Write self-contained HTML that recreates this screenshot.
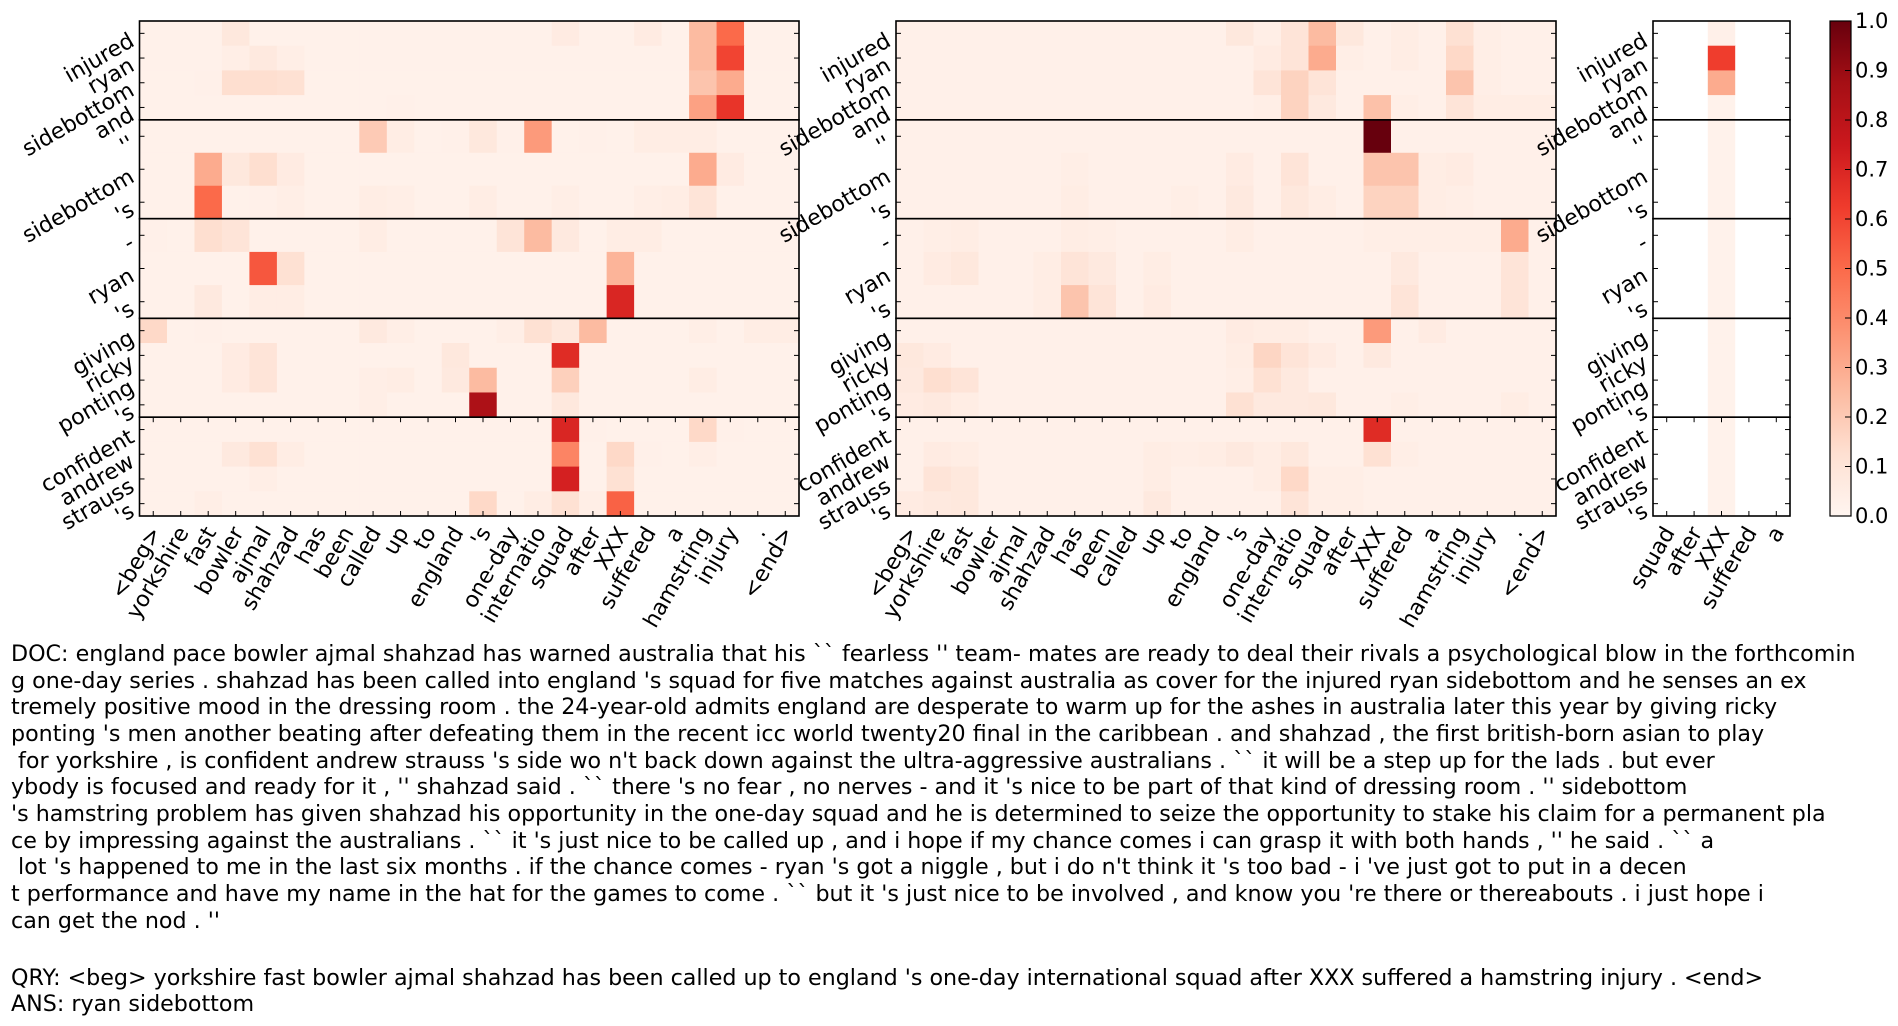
<!DOCTYPE html>
<html><head><meta charset="utf-8">
<style>
html,body{margin:0;padding:0;background:#fff;}
svg{display:block;}
text{font-family:"DejaVu Sans","Liberation Sans",sans-serif;fill:#000;}
</style></head>
<body>
<svg id="s" width="1898" height="1026" xmlns="http://www.w3.org/2000/svg">
<defs>
<linearGradient id="cb" x1="0" y1="1" x2="0" y2="0">
<stop offset="0" stop-color="#fff5f0"/>
<stop offset="0.125" stop-color="#fee0d2"/>
<stop offset="0.25" stop-color="#fcbba1"/>
<stop offset="0.375" stop-color="#fc9272"/>
<stop offset="0.5" stop-color="#fb6a4a"/>
<stop offset="0.625" stop-color="#ef3b2c"/>
<stop offset="0.75" stop-color="#cb181d"/>
<stop offset="0.875" stop-color="#a50f15"/>
<stop offset="1" stop-color="#67000d"/>
</linearGradient>
</defs>
<g id="g"></g>
<g id="txt" font-size="22.2" style="white-space:pre">
<text x="11" y="661" xml:space="preserve">DOC: england pace bowler ajmal shahzad has warned australia that his `` fearless '' team- mates are ready to deal their rivals a psychological blow in the forthcomin</text>
<text x="11" y="688" xml:space="preserve">g one-day series . shahzad has been called into england 's squad for five matches against australia as cover for the injured ryan sidebottom and he senses an ex</text>
<text x="11" y="714" xml:space="preserve">tremely positive mood in the dressing room . the 24-year-old admits england are desperate to warm up for the ashes in australia later this year by giving ricky</text>
<text x="11" y="741" xml:space="preserve">ponting 's men another beating after defeating them in the recent icc world twenty20 final in the caribbean . and shahzad , the first british-born asian to play</text>
<text x="11" y="768" xml:space="preserve"> for yorkshire , is confident andrew strauss 's side wo n't back down against the ultra-aggressive australians . `` it will be a step up for the lads . but ever</text>
<text x="11" y="794" xml:space="preserve">ybody is focused and ready for it , '' shahzad said . `` there 's no fear , no nerves - and it 's nice to be part of that kind of dressing room . '' sidebottom</text>
<text x="11" y="821" xml:space="preserve">'s hamstring problem has given shahzad his opportunity in the one-day squad and he is determined to seize the opportunity to stake his claim for a permanent pla</text>
<text x="11" y="848" xml:space="preserve">ce by impressing against the australians . `` it 's just nice to be called up , and i hope if my chance comes i can grasp it with both hands , '' he said . `` a</text>
<text x="11" y="874" xml:space="preserve"> lot 's happened to me in the last six months . if the chance comes - ryan 's got a niggle , but i do n't think it 's too bad - i 've just got to put in a decen</text>
<text x="11" y="901" xml:space="preserve">t performance and have my name in the hat for the games to come . `` but it 's just nice to be involved , and know you 're there or thereabouts . i just hope i</text>
<text x="11" y="928" xml:space="preserve">can get the nod . ''</text>
<text x="11" y="985" xml:space="preserve">QRY: &lt;beg&gt; yorkshire fast bowler ajmal shahzad has been called up to england 's one-day international squad after XXX suffered a hamstring injury . &lt;end&gt;</text>
<text x="11" y="1011" xml:space="preserve">ANS: ryan sidebottom</text>
</g>
</svg>
<script>
(function(){
var NS="http://www.w3.org/2000/svg";
var G=document.getElementById('g');
function el(t,a,p){var e=document.createElementNS(NS,t);for(var k in a)e.setAttribute(k,a[k]);(p||G).appendChild(e);return e;}
var stops=[[0,[255,245,240]],[.125,[254,224,210]],[.25,[252,187,161]],[.375,[252,146,114]],[.5,[251,106,74]],[.625,[239,59,44]],[.75,[203,24,29]],[.875,[165,15,21]],[1,[103,0,13]]];
function col(v){v=Math.max(0,Math.min(1,v));for(var i=1;i<stops.length;i++){if(v<=stops[i][0]){var a=stops[i-1],b=stops[i],t=(v-a[0])/(b[0]-a[0]);var c=[0,1,2].map(function(j){return Math.round(a[1][j]+(b[1][j]-a[1][j])*t)});return 'rgb('+c.join(',')+')';}}return 'rgb(103,0,13)';}
var bot=516,bnd=[21,119.8,218.7,318.3,417.2,516];
var grpRows=[[0,1,2,3],[4,5,6],[7,8,9],[10,11,12,13],[14,15,16,17]];
var rowY=[],rowH=[];
grpRows.forEach(function(rs,g){var h=(bnd[g+1]-bnd[g])/rs.length;rs.forEach(function(r,i){rowY[r]=bnd[g]+i*h;rowH[r]=h;});});
var xl=["<beg>","yorkshire","fast","bowler","ajmal","shahzad","has","been","called","up","to","england","'s","one-day","internatio","squad","after","XXX","suffered","a","hamstring","injury",".","<end>"];
var yl={0:"injured",1:"ryan",2:"sidebottom",3:"and",4:"''",5:"sidebottom",6:"'s",7:"-",8:"ryan",9:"'s",10:"giving",11:"ricky",12:"ponting",13:"'s",14:"confident",15:"andrew",16:"strauss",17:"'s"};
var d1={0:{3:.08,15:.06,18:.06,20:.25,21:.5},1:{3:.04,4:.07,5:.04,20:.25,21:.6},2:{2:.03,3:.13,4:.13,5:.12,20:.22,21:.3},3:{9:.03,20:.33,21:.65},
4:{8:.2,9:.05,11:.03,12:.08,13:.03,14:.35,16:.03,18:.05,19:.05,20:.05},5:{2:.3,3:.08,4:.13,5:.06,20:.3,21:.06},6:{2:.5,4:.03,5:.04,8:.05,9:.04,12:.05,15:.04,18:.04,19:.05,20:.1},
7:{0:.03,2:.13,3:.1,8:.05,13:.1,14:.25,15:.07,17:.05,18:.05},8:{4:.55,5:.12,17:.27},9:{2:.07,4:.05,5:.05,17:.7},
10:{0:.15,2:.03,8:.07,9:.04,13:.04,14:.12,15:.08,16:.25,20:.04,22:.05,23:.05},11:{3:.06,4:.1,11:.08,15:.68},12:{3:.06,4:.1,8:.04,9:.05,11:.07,12:.25,15:.18,20:.05},13:{12:.85,15:.08,8:.04},
14:{15:.7,16:.03,20:.15,21:.03},15:{3:.07,4:.12,5:.05,15:.42,17:.15,18:.03,20:.04},16:{4:.04,15:.72,17:.12},17:{2:.04,12:.15,14:.05,15:.12,16:.04,17:.52}};
var d2={0:{12:.08,13:.04,14:.1,15:.25,16:.08,17:.03,18:.05,20:.12,21:.04},1:{13:.06,14:.1,15:.3,16:.04,17:.03,18:.05,20:.15,21:.04},2:{13:.1,14:.17,15:.1,20:.22,21:.04},3:{13:.04,14:.17,15:.07,17:.23,18:.04,19:.03,20:.1,21:.05,22:.05,23:.05},
4:{17:1.0},5:{6:.04,12:.06,14:.1,15:.03,17:.22,18:.22,19:.05,20:.06},6:{6:.05,10:.04,12:.07,14:.08,15:.05,17:.17,18:.17,19:.05,20:.04},
7:{1:.04,2:.05,6:.05,7:.04,12:.05,17:.04,18:.04,19:.04,20:.04,21:.04,22:.3},8:{1:.06,2:.08,5:.05,6:.1,7:.07,9:.05,18:.07,22:.1},9:{5:.05,6:.22,7:.1,9:.06,18:.1,22:.1},
10:{12:.06,13:.05,14:.05,17:.35,19:.06},11:{0:.08,1:.06,12:.05,13:.16,14:.1,15:.06,17:.07},12:{0:.07,1:.13,2:.1,12:.04,13:.12,14:.07},13:{0:.06,1:.07,2:.05,12:.12,13:.07,14:.07,15:.08,18:.04,22:.05},
14:{17:.68},15:{1:.06,2:.05,9:.05,10:.04,11:.05,12:.07,13:.05,14:.08,17:.12,18:.04},16:{1:.1,2:.08,9:.05,13:.05,14:.15,15:.04,16:.04},17:{0:.06,1:.07,2:.08,9:.07,14:.1,15:.04,16:.04}};
var d3={0:{2:.03},1:{2:.62},2:{2:.3}};
function panel(x0,x1,labels,data,def,white){
  var n=labels.length,w=(x1-x0)/n;
  for(var r=0;r<18;r++){for(var c=0;c<n;c++){var v=(data[r]&&data[r][c]!=null)?data[r][c]:def;
    var f=(white&&c!==2)?'#ffffff':col(v);
    el('rect',{x:x0+c*w,y:rowY[r],width:w+0.6,height:rowH[r]+0.6,fill:f});}}
  for(var g=0;g<5;g++){
    el('rect',{x:x0,y:bnd[g],width:x1-x0,height:bnd[g+1]-bnd[g],fill:'none',stroke:'#000','stroke-width':1.6});
    grpRows[g].forEach(function(r){var yy=rowY[r]+rowH[r]/2;
      el('line',{x1:x0,x2:x0+5,y1:yy,y2:yy,stroke:'#000','stroke-width':1});
      el('line',{x1:x1-5,x2:x1,y1:yy,y2:yy,stroke:'#000','stroke-width':1});});
  }
  for(var c=0;c<n;c++){var xx=x0+(c+.5)*w;
    el('line',{x1:xx,x2:xx,y1:bot,y2:bot-5,stroke:'#000','stroke-width':1});
    el('line',{x1:xx,x2:xx,y1:bnd[4],y2:bnd[4]+5,stroke:'#000','stroke-width':1});
    var t=el('text',{'font-size':22,'text-anchor':'end','dominant-baseline':'central'});t.textContent=labels[c];
    t.setAttribute('transform','translate('+(xx+3)+','+(bot+13)+') rotate(-60)');}
  for(var r=0;r<18;r++){var yy=rowY[r]+rowH[r]/2;
    var t=el('text',{'font-size':22,'text-anchor':'end','dominant-baseline':'central'});t.textContent=yl[r];
    t.setAttribute('transform','translate('+(x0-7)+','+(yy+6)+') rotate(-30)');}
}
panel(139.5,799,xl,d1,0.025,false);
panel(896,1556,xl,d2,0.03,false);
panel(1653,1790,["squad","after","XXX","suffered","a"],d3,0.02,true);
el('rect',{x:1830,y:21,width:21,height:495,fill:'url(#cb)',stroke:'#000','stroke-width':1.2});
for(var i=0;i<=10;i++){var yy=516-i*49.5;
  el('line',{x1:1845,x2:1851,y1:yy,y2:yy,stroke:'#000','stroke-width':1});
  var t=el('text',{x:1855,y:yy,'font-size':21,'dominant-baseline':'central'});t.textContent=(i/10).toFixed(1);}
})();
</script>
</body></html>
